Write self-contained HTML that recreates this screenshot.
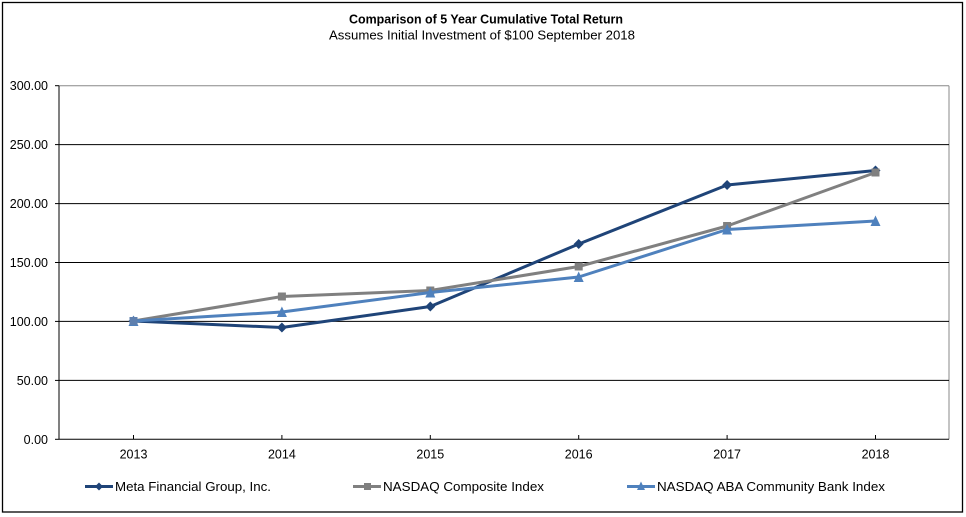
<!DOCTYPE html>
<html>
<head>
<meta charset="utf-8">
<style>
html,body{margin:0;padding:0;background:#fff;}
svg{display:block;}
text{font-family:"Liberation Sans",Arial,sans-serif;fill:#000;}
</style>
</head>
<body>
<svg width="966" height="517" viewBox="0 0 966 517" xmlns="http://www.w3.org/2000/svg">
  <rect x="0" y="0" width="966" height="517" fill="#fff"/>
  <!-- outer frame -->
  <rect x="2.5" y="2.5" width="960" height="509.5" fill="none" stroke="#000" stroke-width="1.3"/>

  <!-- titles -->
  <text x="486" y="23.5" font-size="13" font-weight="bold" text-anchor="middle" textLength="274" lengthAdjust="spacingAndGlyphs">Comparison of 5 Year Cumulative Total Return</text>
  <text x="482" y="39.5" font-size="13" text-anchor="middle" textLength="306" lengthAdjust="spacingAndGlyphs">Assumes Initial Investment of $100 September 2018</text>

  <!-- plot area border (top/right gray) -->
  <line x1="59" y1="85.7" x2="949" y2="85.7" stroke="#888" stroke-width="1"/>
  <line x1="949" y1="85.7" x2="949" y2="439.3" stroke="#888" stroke-width="1"/>

  <!-- gridlines -->
  <g stroke="#000" stroke-width="1">
    <line x1="59" y1="144.6" x2="949" y2="144.6"/>
    <line x1="59" y1="203.6" x2="949" y2="203.6"/>
    <line x1="59" y1="262.5" x2="949" y2="262.5"/>
    <line x1="59" y1="321.4" x2="949" y2="321.4"/>
    <line x1="59" y1="380.4" x2="949" y2="380.4"/>
    <!-- axes -->
    <line x1="59" y1="85.7" x2="59" y2="439.3"/>
    <line x1="59" y1="439.3" x2="949" y2="439.3"/>
    <!-- y ticks -->
    <line x1="55" y1="85.7" x2="59" y2="85.7"/>
    <line x1="55" y1="144.6" x2="59" y2="144.6"/>
    <line x1="55" y1="203.6" x2="59" y2="203.6"/>
    <line x1="55" y1="262.5" x2="59" y2="262.5"/>
    <line x1="55" y1="321.4" x2="59" y2="321.4"/>
    <line x1="55" y1="380.4" x2="59" y2="380.4"/>
    <line x1="55" y1="439.3" x2="59" y2="439.3"/>
    <!-- x ticks -->
    <line x1="133.5" y1="435" x2="133.5" y2="439.3"/>
    <line x1="281.9" y1="435" x2="281.9" y2="439.3"/>
    <line x1="430.3" y1="435" x2="430.3" y2="439.3"/>
    <line x1="578.7" y1="435" x2="578.7" y2="439.3"/>
    <line x1="727.1" y1="435" x2="727.1" y2="439.3"/>
    <line x1="875.5" y1="435" x2="875.5" y2="439.3"/>
  </g>

  <!-- y labels -->
  <g font-size="12.5" text-anchor="end">
    <text x="48" y="90.2">300.00</text>
    <text x="48" y="149.1">250.00</text>
    <text x="48" y="208.1">200.00</text>
    <text x="48" y="267">150.00</text>
    <text x="48" y="325.9">100.00</text>
    <text x="48" y="384.9">50.00</text>
    <text x="48" y="443.8">0.00</text>
  </g>

  <!-- x labels -->
  <g font-size="12.5" text-anchor="middle">
    <text x="133.5" y="458.5">2013</text>
    <text x="281.9" y="458.5">2014</text>
    <text x="430.3" y="458.5">2015</text>
    <text x="578.7" y="458.5">2016</text>
    <text x="727.1" y="458.5">2017</text>
    <text x="875.5" y="458.5">2018</text>
  </g>

  <!-- Meta Financial -->
  <polyline fill="none" stroke="#1F4478" stroke-width="3" stroke-linejoin="round"
    points="133.5,321 281.9,327.5 430.3,306.5 578.7,244 727.1,185 875.5,170.5"/>
  <g fill="#1F4478">
    <polygon points="133.5,316 138.5,321 133.5,326 128.5,321"/>
    <polygon points="281.9,322.5 286.9,327.5 281.9,332.5 276.9,327.5"/>
    <polygon points="430.3,301.5 435.3,306.5 430.3,311.5 425.3,306.5"/>
    <polygon points="578.7,239 583.7,244 578.7,249 573.7,244"/>
    <polygon points="727.1,180 732.1,185 727.1,190 722.1,185"/>
    <polygon points="875.5,165.5 880.5,170.5 875.5,175.5 870.5,170.5"/>
  </g>

  <!-- NASDAQ Composite -->
  <polyline fill="none" stroke="#808080" stroke-width="3" stroke-linejoin="round"
    points="133.5,321 281.9,296.5 430.3,290.5 578.7,266.5 727.1,226 875.5,172.5"/>
  <g fill="#808080">
    <rect x="129.5" y="317" width="8" height="8"/>
    <rect x="277.9" y="292.5" width="8" height="8"/>
    <rect x="426.3" y="286.5" width="8" height="8"/>
    <rect x="574.7" y="262.5" width="8" height="8"/>
    <rect x="723.1" y="222" width="8" height="8"/>
    <rect x="871.5" y="168.5" width="8" height="8"/>
  </g>

  <!-- NASDAQ ABA Community Bank -->
  <polyline fill="none" stroke="#4F81BD" stroke-width="3" stroke-linejoin="round"
    points="133.5,321 281.9,312 430.3,292.5 578.7,277 727.1,229.5 875.5,221"/>
  <g fill="#4F81BD">
    <polygon points="133.5,315.5 138.5,326 128.5,326"/>
    <polygon points="281.9,306.5 286.9,317 276.9,317"/>
    <polygon points="430.3,287 435.3,297.5 425.3,297.5"/>
    <polygon points="578.7,271.5 583.7,282 573.7,282"/>
    <polygon points="727.1,224 732.1,234.5 722.1,234.5"/>
    <polygon points="875.5,215.5 880.5,226 870.5,226"/>
  </g>
  <rect x="129.5" y="317" width="8" height="8" fill="#5E7FAE"/>

  <!-- legend -->
  <line x1="85" y1="486.5" x2="113" y2="486.5" stroke="#1F4478" stroke-width="3"/>
  <polygon points="99,482.5 103,486.5 99,490.5 95,486.5" fill="#1F4478"/>
  <text x="115" y="491" font-size="12.5" textLength="156" lengthAdjust="spacingAndGlyphs">Meta Financial Group, Inc.</text>

  <line x1="353" y1="486.5" x2="381" y2="486.5" stroke="#808080" stroke-width="3"/>
  <rect x="364" y="483" width="7" height="7" fill="#808080"/>
  <text x="383" y="491" font-size="12.5" textLength="161" lengthAdjust="spacingAndGlyphs">NASDAQ Composite Index</text>

  <line x1="627" y1="486.5" x2="655" y2="486.5" stroke="#4F81BD" stroke-width="3"/>
  <polygon points="641,481.5 645,490 637,490" fill="#4F81BD"/>
  <text x="657" y="491" font-size="12.5" textLength="228" lengthAdjust="spacingAndGlyphs">NASDAQ ABA Community Bank Index</text>
</svg>
</body>
</html>
